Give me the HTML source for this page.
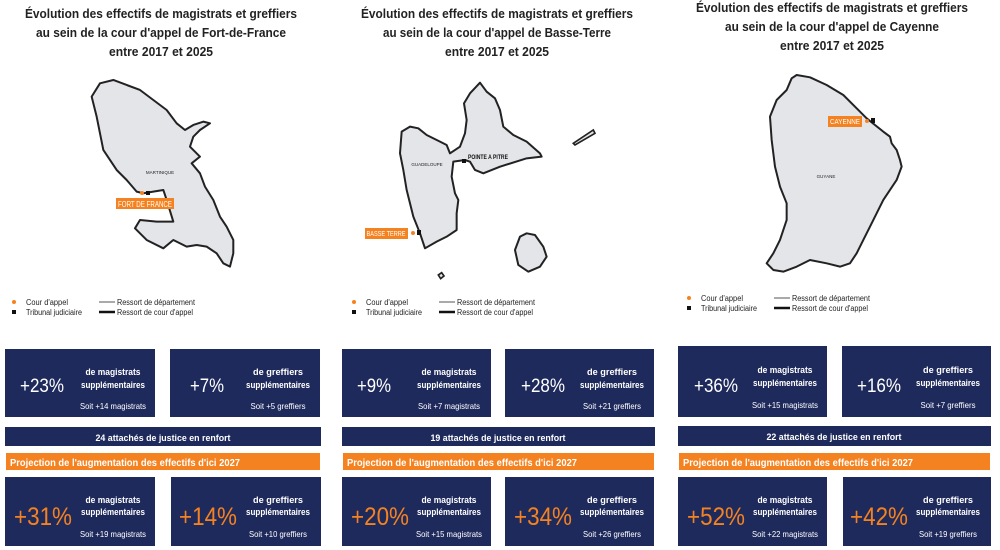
<!DOCTYPE html>
<html><head><meta charset="utf-8"><style>
html,body{margin:0;padding:0;background:#fff}
svg{display:block}
text{font-family:"Liberation Sans",sans-serif}
</style></head><body>
<svg width="1000" height="550" viewBox="0 0 1000 550" xmlns="http://www.w3.org/2000/svg">
<defs>
<g id="leg">
<circle cx="14" cy="302" r="2" fill="#f58220"/>
<text x="26" y="305" font-size="8" fill="#222" textLength="42" lengthAdjust="spacingAndGlyphs">Cour d'appel</text>
<rect x="12" y="310" width="4" height="4" fill="#111"/>
<text x="26" y="315" font-size="8" fill="#222" textLength="56" lengthAdjust="spacingAndGlyphs">Tribunal judiciaire</text>
<line x1="99" y1="302" x2="115" y2="302" stroke="#aaa" stroke-width="2"/>
<text x="117" y="305" font-size="8" fill="#222" textLength="78" lengthAdjust="spacingAndGlyphs">Ressort de département</text>
<line x1="99" y1="312" x2="115" y2="312" stroke="#111" stroke-width="2.5"/>
<text x="117" y="315" font-size="8" fill="#222" textLength="76" lengthAdjust="spacingAndGlyphs">Ressort de cour d'appel</text>
</g>
<g id="box" fill="#fff" text-anchor="middle" font-weight="bold" font-size="9">
</g>
</defs>

<!-- Titles -->
<g font-weight="bold" font-size="12.5" fill="#222" text-anchor="middle" lengthAdjust="spacingAndGlyphs">
<text x="161" y="18" textLength="272" lengthAdjust="spacingAndGlyphs">Évolution des effectifs de magistrats et greffiers</text>
<text x="161" y="37" textLength="250" lengthAdjust="spacingAndGlyphs">au sein de la cour d'appel de Fort-de-France</text>
<text x="161" y="56" textLength="104" lengthAdjust="spacingAndGlyphs">entre 2017 et 2025</text>
<text x="497" y="18" textLength="272" lengthAdjust="spacingAndGlyphs">Évolution des effectifs de magistrats et greffiers</text>
<text x="497" y="37" textLength="228" lengthAdjust="spacingAndGlyphs">au sein de la cour d'appel de Basse-Terre</text>
<text x="497" y="56" textLength="104" lengthAdjust="spacingAndGlyphs">entre 2017 et 2025</text>
<text x="832" y="12" textLength="272" lengthAdjust="spacingAndGlyphs">Évolution des effectifs de magistrats et greffiers</text>
<text x="832" y="31" textLength="214" lengthAdjust="spacingAndGlyphs">au sein de la cour d'appel de Cayenne</text>
<text x="832" y="50" textLength="104" lengthAdjust="spacingAndGlyphs">entre 2017 et 2025</text>
</g>

<!-- Martinique -->
<g transform="scale(0.3333)">
<polygon points="275,290 300,250 340,240 380,255 420,270 460,300 500,330 530,370 555,390 580,375 610,365 630,370 600,390 580,410 570,440 600,470 575,490 600,520 615,560 640,600 660,650 680,680 700,720 700,760 690,800 670,790 650,760 620,740 590,735 560,740 520,720 490,745 440,720 420,700 405,685 420,660 470,665 520,665 500,600 490,570 460,575 430,580 410,575 380,540 350,510 310,450 300,400 290,350" fill="#e3e5e9" stroke="#222" stroke-width="6" stroke-linejoin="round"/>
</g>
<text x="160" y="174" font-size="4.5" fill="#222" text-anchor="middle">MARTINIQUE</text>
<circle cx="142" cy="193" r="2" fill="#f58220"/>
<rect x="146" y="191" width="4" height="4" fill="#111"/>
<rect x="116" y="198" width="58" height="11" fill="#f58220"/>
<text x="145" y="207" font-size="8" fill="#fff" text-anchor="middle" textLength="54" lengthAdjust="spacingAndGlyphs">FORT DE FRANCE</text>

<!-- Guadeloupe -->
<g transform="translate(340,60) scale(0.3333)">
<polygon points="185,215 210,200 235,205 260,225 300,245 320,255 330,280 360,260 375,220 380,180 372,130 390,100 420,68 440,95 465,115 480,150 490,200 520,225 560,245 600,280 605,290 560,295 480,320 430,340 405,330 390,305 375,300 340,305 335,350 345,400 355,420 350,460 350,510 320,530 290,545 255,565 240,520 220,470 200,390 190,330 180,280" fill="#e3e5e9" stroke="#222" stroke-width="6" stroke-linejoin="round"/>
<polygon points="560,520 585,525 610,560 620,590 600,620 565,635 535,615 525,570 540,530" fill="#e3e5e9" stroke="#222" stroke-width="6" stroke-linejoin="round"/>
<polygon points="700,250 760,210 765,220 705,255" fill="#e3e5e9" stroke="#222" stroke-width="5"/>
<polygon points="295,645 305,638 312,648 302,656" fill="#e3e5e9" stroke="#222" stroke-width="5"/>
</g>
<text x="427" y="166" font-size="4.5" fill="#222" text-anchor="middle">GUADELOUPE</text>
<rect x="462" y="159" width="4" height="4" fill="#111"/>
<text x="468" y="159" font-size="6.5" font-weight="bold" fill="#111" textLength="40" lengthAdjust="spacingAndGlyphs">POINTE A PITRE</text>
<rect x="365" y="228" width="43" height="11" fill="#f58220"/>
<text x="386" y="236" font-size="7.5" fill="#fff" text-anchor="middle" textLength="39" lengthAdjust="spacingAndGlyphs">BASSE TERRE</text>
<circle cx="413" cy="233" r="2" fill="#f58220"/>
<rect x="417" y="230" width="4" height="5" fill="#111"/>

<!-- Guyane -->
<g transform="translate(670,0) scale(0.3333)">
<polygon points="365,235 380,225 420,232 470,255 520,285 560,325 590,355 615,375 640,395 660,410 665,430 680,450 690,480 695,500 680,540 660,570 640,600 620,640 600,680 580,720 560,760 540,790 510,800 470,790 420,780 380,800 340,815 310,810 290,790 310,760 330,720 350,660 350,610 330,560 315,500 305,420 300,350 320,300 350,270" fill="#e3e5e9" stroke="#222" stroke-width="6" stroke-linejoin="round"/>
</g>
<text x="826" y="178" font-size="4.5" fill="#222" text-anchor="middle">GUYANE</text>
<rect x="828" y="116" width="34" height="11" fill="#f58220"/>
<text x="845" y="124" font-size="7.5" fill="#fff" text-anchor="middle" textLength="30" lengthAdjust="spacingAndGlyphs">CAYENNE</text>
<circle cx="867" cy="121" r="2" fill="#f58220"/>
<rect x="871" y="118" width="4" height="5" fill="#111"/>

<!-- Legends -->
<use href="#leg"/>
<use href="#leg" transform="translate(340,0)"/>
<use href="#leg" transform="translate(675,-4)"/>

<!-- Panel 1 -->
<g>
<rect x="5" y="349" width="150" height="68" fill="#1f2a5c"/>
<rect x="170" y="349" width="150" height="68" fill="#1f2a5c"/>
<rect x="5" y="427" width="316" height="19" fill="#1f2a5c"/>
<rect x="6" y="453" width="314" height="17" fill="#f58220"/>
<rect x="5" y="477" width="150" height="69" fill="#1f2a5c"/>
<rect x="171" y="477" width="150" height="69" fill="#1f2a5c"/>
<g fill="#fff" text-anchor="middle">
<text x="42" y="392" font-size="19" textLength="44" lengthAdjust="spacingAndGlyphs">+23%</text>
<text x="113" y="375" font-size="9" font-weight="bold" textLength="55" lengthAdjust="spacingAndGlyphs">de magistrats</text>
<text x="113" y="388" font-size="9" font-weight="bold" textLength="64" lengthAdjust="spacingAndGlyphs">supplémentaires</text>
<text x="113" y="409" font-size="8.5" textLength="66" lengthAdjust="spacingAndGlyphs">Soit +14 magistrats</text>
<text x="207" y="392" font-size="19" textLength="34" lengthAdjust="spacingAndGlyphs">+7%</text>
<text x="278" y="375" font-size="9" font-weight="bold" textLength="50" lengthAdjust="spacingAndGlyphs">de greffiers</text>
<text x="278" y="388" font-size="9" font-weight="bold" textLength="64" lengthAdjust="spacingAndGlyphs">supplémentaires</text>
<text x="278" y="409" font-size="8.5" textLength="55" lengthAdjust="spacingAndGlyphs">Soit +5 greffiers</text>
<text x="163" y="441" font-size="9.5" font-weight="bold" textLength="135" lengthAdjust="spacingAndGlyphs">24 attachés de justice en renfort</text>
<text x="113" y="503" font-size="9" font-weight="bold" textLength="55" lengthAdjust="spacingAndGlyphs">de magistrats</text>
<text x="113" y="515" font-size="9" font-weight="bold" textLength="64" lengthAdjust="spacingAndGlyphs">supplémentaires</text>
<text x="113" y="537" font-size="8.5" textLength="66" lengthAdjust="spacingAndGlyphs">Soit +19 magistrats</text>
<text x="278" y="503" font-size="9" font-weight="bold" textLength="50" lengthAdjust="spacingAndGlyphs">de greffiers</text>
<text x="278" y="515" font-size="9" font-weight="bold" textLength="64" lengthAdjust="spacingAndGlyphs">supplémentaires</text>
<text x="278" y="537" font-size="8.5" textLength="58" lengthAdjust="spacingAndGlyphs">Soit +10 greffiers</text>
</g>
<text x="10" y="466" font-size="10.5" font-weight="bold" fill="#fff" textLength="230" lengthAdjust="spacingAndGlyphs">Projection de l'augmentation des effectifs d'ici 2027</text>
<g fill="#f58220" text-anchor="middle" font-size="25">
<text x="43" y="525" textLength="58" lengthAdjust="spacingAndGlyphs">+31%</text>
<text x="208" y="525" textLength="58" lengthAdjust="spacingAndGlyphs">+14%</text>
</g>
</g>

<!-- Panel 2 -->
<g>
<rect x="342" y="349" width="149" height="68" fill="#1f2a5c"/>
<rect x="505" y="349" width="149" height="68" fill="#1f2a5c"/>
<rect x="342" y="427" width="313" height="19" fill="#1f2a5c"/>
<rect x="343" y="453" width="311" height="17" fill="#f58220"/>
<rect x="342" y="477" width="149" height="69" fill="#1f2a5c"/>
<rect x="505" y="477" width="149" height="69" fill="#1f2a5c"/>
<g fill="#fff" text-anchor="middle">
<text x="374" y="392" font-size="19" textLength="34" lengthAdjust="spacingAndGlyphs">+9%</text>
<text x="449" y="375" font-size="9" font-weight="bold" textLength="55" lengthAdjust="spacingAndGlyphs">de magistrats</text>
<text x="449" y="388" font-size="9" font-weight="bold" textLength="64" lengthAdjust="spacingAndGlyphs">supplémentaires</text>
<text x="449" y="409" font-size="8.5" textLength="62" lengthAdjust="spacingAndGlyphs">Soit +7 magistrats</text>
<text x="543" y="392" font-size="19" textLength="44" lengthAdjust="spacingAndGlyphs">+28%</text>
<text x="612" y="375" font-size="9" font-weight="bold" textLength="50" lengthAdjust="spacingAndGlyphs">de greffiers</text>
<text x="612" y="388" font-size="9" font-weight="bold" textLength="64" lengthAdjust="spacingAndGlyphs">supplémentaires</text>
<text x="612" y="409" font-size="8.5" textLength="58" lengthAdjust="spacingAndGlyphs">Soit +21 greffiers</text>
<text x="498" y="441" font-size="9.5" font-weight="bold" textLength="135" lengthAdjust="spacingAndGlyphs">19 attachés de justice en renfort</text>
<text x="449" y="503" font-size="9" font-weight="bold" textLength="55" lengthAdjust="spacingAndGlyphs">de magistrats</text>
<text x="449" y="515" font-size="9" font-weight="bold" textLength="64" lengthAdjust="spacingAndGlyphs">supplémentaires</text>
<text x="449" y="537" font-size="8.5" textLength="66" lengthAdjust="spacingAndGlyphs">Soit +15 magistrats</text>
<text x="612" y="503" font-size="9" font-weight="bold" textLength="50" lengthAdjust="spacingAndGlyphs">de greffiers</text>
<text x="612" y="515" font-size="9" font-weight="bold" textLength="64" lengthAdjust="spacingAndGlyphs">supplémentaires</text>
<text x="612" y="537" font-size="8.5" textLength="58" lengthAdjust="spacingAndGlyphs">Soit +26 greffiers</text>
</g>
<text x="347" y="466" font-size="10.5" font-weight="bold" fill="#fff" textLength="230" lengthAdjust="spacingAndGlyphs">Projection de l'augmentation des effectifs d'ici 2027</text>
<g fill="#f58220" text-anchor="middle" font-size="25">
<text x="380" y="525" textLength="58" lengthAdjust="spacingAndGlyphs">+20%</text>
<text x="543" y="525" textLength="58" lengthAdjust="spacingAndGlyphs">+34%</text>
</g>
</g>

<!-- Panel 3 -->
<g>
<rect x="678" y="346" width="149" height="71" fill="#1f2a5c"/>
<rect x="842" y="346" width="149" height="71" fill="#1f2a5c"/>
<rect x="678" y="426" width="313" height="20" fill="#1f2a5c"/>
<rect x="679" y="453" width="311" height="17" fill="#f58220"/>
<rect x="678" y="477" width="149" height="69" fill="#1f2a5c"/>
<rect x="843" y="477" width="148" height="69" fill="#1f2a5c"/>
<g fill="#fff" text-anchor="middle">
<text x="716" y="392" font-size="19" textLength="44" lengthAdjust="spacingAndGlyphs">+36%</text>
<text x="785" y="373" font-size="9" font-weight="bold" textLength="55" lengthAdjust="spacingAndGlyphs">de magistrats</text>
<text x="785" y="386" font-size="9" font-weight="bold" textLength="64" lengthAdjust="spacingAndGlyphs">supplémentaires</text>
<text x="785" y="408" font-size="8.5" textLength="66" lengthAdjust="spacingAndGlyphs">Soit +15 magistrats</text>
<text x="879" y="392" font-size="19" textLength="44" lengthAdjust="spacingAndGlyphs">+16%</text>
<text x="948" y="373" font-size="9" font-weight="bold" textLength="50" lengthAdjust="spacingAndGlyphs">de greffiers</text>
<text x="948" y="386" font-size="9" font-weight="bold" textLength="64" lengthAdjust="spacingAndGlyphs">supplémentaires</text>
<text x="948" y="408" font-size="8.5" textLength="55" lengthAdjust="spacingAndGlyphs">Soit +7 greffiers</text>
<text x="834" y="440" font-size="9.5" font-weight="bold" textLength="135" lengthAdjust="spacingAndGlyphs">22 attachés de justice en renfort</text>
<text x="785" y="503" font-size="9" font-weight="bold" textLength="55" lengthAdjust="spacingAndGlyphs">de magistrats</text>
<text x="785" y="515" font-size="9" font-weight="bold" textLength="64" lengthAdjust="spacingAndGlyphs">supplémentaires</text>
<text x="785" y="537" font-size="8.5" textLength="66" lengthAdjust="spacingAndGlyphs">Soit +22 magistrats</text>
<text x="948" y="503" font-size="9" font-weight="bold" textLength="50" lengthAdjust="spacingAndGlyphs">de greffiers</text>
<text x="948" y="515" font-size="9" font-weight="bold" textLength="64" lengthAdjust="spacingAndGlyphs">supplémentaires</text>
<text x="948" y="537" font-size="8.5" textLength="58" lengthAdjust="spacingAndGlyphs">Soit +19 greffiers</text>
</g>
<text x="683" y="466" font-size="10.5" font-weight="bold" fill="#fff" textLength="230" lengthAdjust="spacingAndGlyphs">Projection de l'augmentation des effectifs d'ici 2027</text>
<g fill="#f58220" text-anchor="middle" font-size="25">
<text x="716" y="525" textLength="58" lengthAdjust="spacingAndGlyphs">+52%</text>
<text x="879" y="525" textLength="58" lengthAdjust="spacingAndGlyphs">+42%</text>
</g>
</g>
</svg>
</body></html>
